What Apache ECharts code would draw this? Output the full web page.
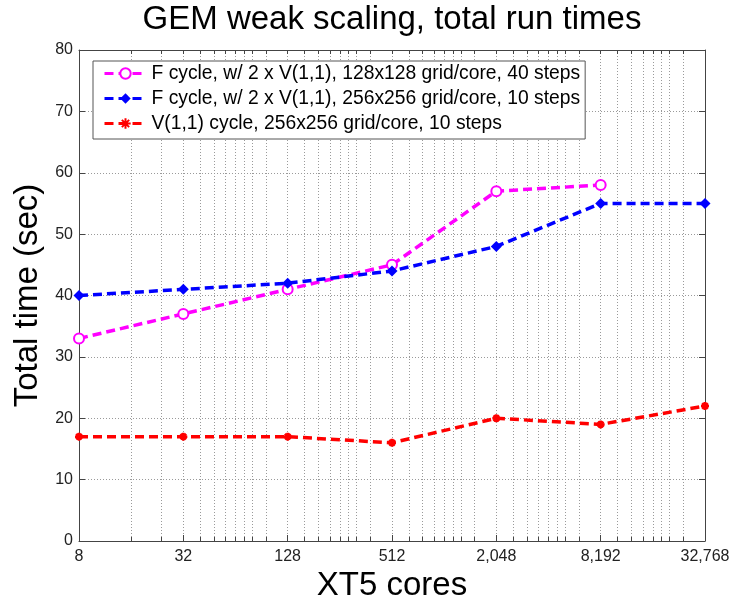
<!DOCTYPE html>
<html>
<head>
<meta charset="utf-8">
<script src="https://cdn.jsdelivr.net/npm/echarts@6/dist/echarts.min.js"></script>
<style>
html,body{margin:0;padding:0;background:#fff;}
#chart{width:734px;height:600px;}
</style>
</head>
<body>
<div id="chart"></div>
<script>
// ---- data ----
const cores = [8, 32, 128, 512, 2048, 8192, 32768];
const seriesNames = [
  'F cycle, w/ 2 x V(1,1), 128x128 grid/core, 40 steps',
  'F cycle, w/ 2 x V(1,1), 256x256 grid/core, 10 steps',
  'V(1,1) cycle, 256x256 grid/core, 10 steps'
];
const fCycle128 = [33, 37, 41, 45, 57, 58, null];
const fCycle256 = [40, 41, 42, 44, 48, 55, 55];
const vCycle256 = [17, 17, 17, 16, 20, 19, 22];
const xMajorTicks = [8, 32, 128, 512, 2048, 8192, 32768];
const xMinorTicks = [16, 24,
  40, 48, 56, 64, 72, 80, 96,
  160, 192, 224, 256, 288, 320, 384,
  640, 768, 896, 1024, 1152, 1280, 1536,
  2560, 3072, 3584, 4096, 4608, 5120, 6144,
  10240, 12288, 14336, 16384, 18432, 20480, 24576];
const yTicks = [0, 10, 20, 30, 40, 50, 60, 70, 80];

const FONT = '"Liberation Sans", Arial, Helvetica, sans-serif';
const pairs = arr => cores.map((c, i) => [c, arr[i]]).filter(p => p[1] !== null);

const gridLine = {show: true, lineStyle: {color: '#9a9a9a', width: 1, type: [1, 2]}};
const axisCol = '#444';

const chart = echarts.init(document.getElementById('chart'), null, {renderer: 'canvas'});
chart.setOption({
  animation: false,
  backgroundColor: '#fff',
  title: {
    text: 'GEM weak scaling, total run times',
    left: 387, top: -2, textAlign: 'center',
    textStyle: {fontFamily: FONT, fontSize: 33, fontWeight: 'normal', color: '#000'}
  },
  grid: {left: 79, right: 29, top: 50, bottom: 59, containLabel: false, outerBoundsMode: 'none'},
  legend: {
    orient: 'vertical', left: 93, top: 61,
    itemWidth: 42, itemHeight: 13, itemGap: 6,
    padding: [3, 5, 6, 10],
    backgroundColor: '#fff', borderColor: '#555', borderWidth: 1,
    lineStyle: {width: 3},
    textStyle: {fontFamily: FONT, fontSize: 19.3, color: '#000'},
    data: seriesNames
  },
  xAxis: [
    {
      type: 'log', logBase: 2, min: 8, max: 32768, position: 'bottom',
      axisLine: {show: true, lineStyle: {color: axisCol, width: 1}},
      axisTick: {show: true, inside: true, length: 6, customValues: xMajorTicks, lineStyle: {color: axisCol}},
      axisLabel: {customValues: xMajorTicks, fontFamily: FONT, fontSize: 16, color: '#222', margin: 8,
        formatter: v => Math.round(v).toLocaleString('en-US')},
      splitLine: gridLine,
      minorTick: {show: false}, minorSplitLine: {show: false},
      name: 'XT5 cores', nameLocation: 'middle', nameGap: 24,
      nameTextStyle: {fontFamily: FONT, fontSize: 33, color: '#000'}
    },
    {
      type: 'log', logBase: 2, min: 8, max: 32768, position: 'bottom',
      axisLine: {show: false},
      axisTick: {show: true, inside: true, length: 4, customValues: xMinorTicks, lineStyle: {color: axisCol}},
      axisLabel: {show: false},
      splitLine: gridLine
    },
    {
      type: 'log', logBase: 2, min: 8, max: 32768, position: 'top',
      axisLine: {show: true, lineStyle: {color: axisCol, width: 1}},
      axisTick: {show: true, inside: true, length: 4, customValues: xMajorTicks.concat(xMinorTicks), lineStyle: {color: axisCol}},
      axisLabel: {show: false},
      splitLine: {show: false}
    }
  ],
  yAxis: [
    {
      type: 'value', min: 0, max: 80, interval: 10, position: 'left',
      axisLine: {show: true, lineStyle: {color: axisCol, width: 1}},
      axisTick: {show: true, inside: true, length: 6, lineStyle: {color: axisCol}},
      axisLabel: {fontFamily: FONT, fontSize: 16, color: '#222', margin: 6,
        customValues: yTicks},
      splitLine: gridLine,
      name: 'Total time (sec)', nameLocation: 'middle', nameGap: 33,
      nameTextStyle: {fontFamily: FONT, fontSize: 33, color: '#000'}
    },
    {
      type: 'value', min: 0, max: 80, interval: 10, position: 'right',
      axisLine: {show: true, lineStyle: {color: axisCol, width: 1}},
      axisTick: {show: true, inside: true, length: 6, lineStyle: {color: axisCol}},
      axisLabel: {show: false},
      splitLine: {show: false}
    }
  ],
  series: [
    {
      name: seriesNames[0], type: 'line', xAxisIndex: 0, yAxisIndex: 0,
      data: pairs(fCycle128),
      symbol: 'emptyCircle', symbolSize: 10,
      itemStyle: {color: '#ff00ff', borderColor: '#ff00ff', borderWidth: 3},
      lineStyle: {color: '#ff00ff', width: 3.5, type: [9, 5]},
      z: 3
    },
    {
      name: seriesNames[1], type: 'line', xAxisIndex: 0, yAxisIndex: 0,
      data: pairs(fCycle256),
      symbol: 'diamond', symbolSize: 11,
      itemStyle: {color: '#0000ff'},
      lineStyle: {color: '#0000ff', width: 3.5, type: [9, 5]},
      z: 4
    },
    {
      name: seriesNames[2], type: 'line', xAxisIndex: 0, yAxisIndex: 0,
      data: pairs(vCycle256),
      symbol: 'path://M0,5L10,5M5,0L5,10M1.5,1.5L8.5,8.5M1.5,8.5L8.5,1.5', symbolSize: 8,
      itemStyle: {color: '#ff0000', borderColor: '#ff0000', borderWidth: 2.5},
      lineStyle: {color: '#ff0000', width: 3.5, type: [9, 5]},
      z: 5
    }
  ]
});
</script>
</body>
</html>
